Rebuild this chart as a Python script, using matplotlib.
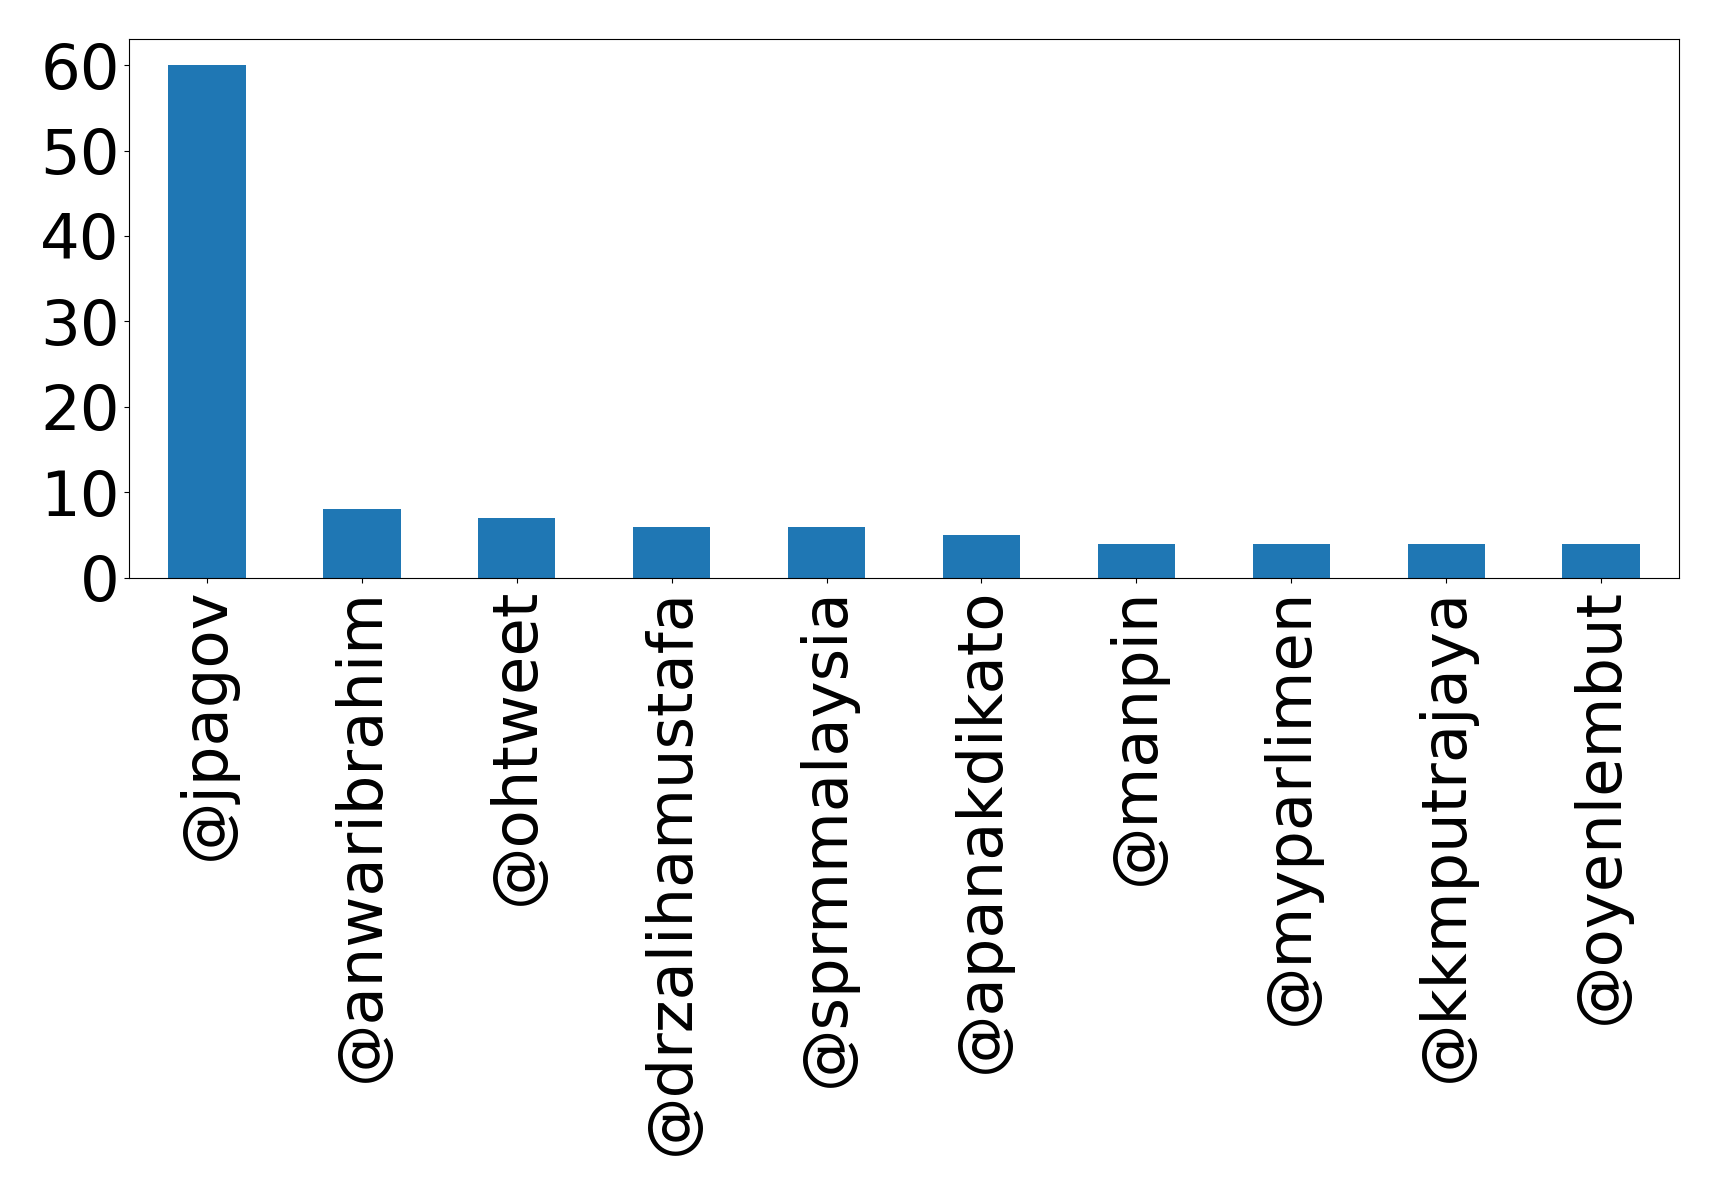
import numpy as np
import pandas as pd
import matplotlib
matplotlib.use("Agg")
import matplotlib.pyplot as plt

# mention counts per account
accounts = ["@jpagov", "@anwaribrahim", "@ohtweet", "@drzalihamustafa",
            "@sprmmalaysia", "@apanakdikato", "@manpin", "@myparlimen",
            "@kkmputrajaya", "@oyenlembut"]
counts = [60, 8, 7, 6, 6, 5, 4, 4, 4, 4]

s = pd.Series(counts, index=accounts)

fig = plt.figure(figsize=(17.19, 11.95), dpi=100)
ax = fig.add_axes([0.0753, 0.5165, 0.9012, 0.4505])
s.plot(kind="bar", ax=ax, color="#1f77b4", fontsize=45)
ax.set_yticks([0, 10, 20, 30, 40, 50, 60])
ax.tick_params(axis="both", labelsize=45)

fig.savefig("out.png", dpi=100)
